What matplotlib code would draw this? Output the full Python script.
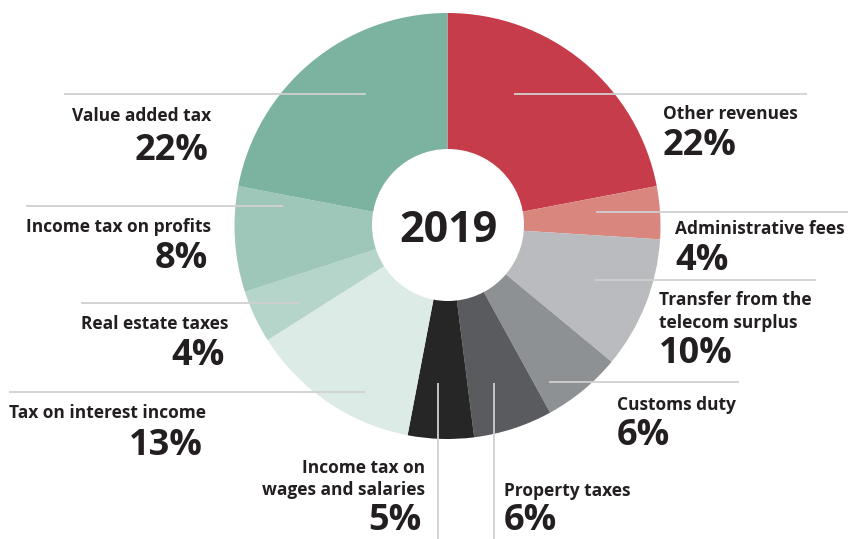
import matplotlib
matplotlib.use("Agg")
import matplotlib.pyplot as plt
from matplotlib.patches import Circle

# Revenue composition, 2019 (shares in percent, clockwise from the top)
categories = [
    "Other revenues",
    "Administrative fees",
    "Transfer from the\ntelecom surplus",
    "Customs duty",
    "Property taxes",
    "Income tax on\nwages and salaries",
    "Tax on interest income",
    "Real estate taxes",
    "Income tax on profits",
    "Value added tax",
]
shares = [22, 4, 10, 6, 6, 5, 13, 4, 8, 22]
colors = [
    "#C63C4A", "#D9877E", "#B9BBBE", "#8E9194", "#5A5B5F",
    "#262626", "#DCEBE6", "#B5D4CA", "#9EC6B9", "#7BB3A0",
]
year = "2019"

W, H = 849, 539
TEXT = "#231F20"
LINE = "#D0D0D0"
FONT = ["Open Sans", "DejaVu Sans"]

fig = plt.figure(figsize=(W / 100, H / 100), dpi=100)
ax = fig.add_axes([0, 0, 1, 1])


def fy(y):
    """Convert a top-down pixel row into the axes' bottom-up coordinate."""
    return H - y


cx, cy, R, r_in = 447.5, 226, 213, 76

ax.pie(shares, colors=colors, startangle=90, counterclock=False,
       center=(cx, fy(cy)), radius=R, frame=True,
       wedgeprops=dict(linewidth=0))
ax.add_patch(Circle((cx + 0.5, fy(cy - 1)), r_in, facecolor="white",
                    edgecolor="none", zorder=5))
ax.text(cx + 0.5, fy(cy - 1), year, ha="center", va="center_baseline",
        fontsize=31, fontweight="bold", color=TEXT, family=FONT, zorder=6)

# label layout: (x, label baseline(s), percent baseline, alignment, leader line)
layout = [
    (663, [119], 155, "left", ((514, 94), (807, 94))),
    (675, [234], 270, "left", ((596, 212), (848, 212))),
    (659, [305, 328], 363, "left", ((595, 280), (816, 280))),
    (617, [410], 445, "left", ((549, 382), (739, 382))),
    (504, [496], 530, "left", ((494, 383), (494, 539))),
    (425, [473, 495], 530, "right", ((438, 383), (438, 539))),
    (206, [418], 455, "right", ((9, 392), (365, 392))),
    (228, [329], 365, "right", ((81, 303), (299, 303))),
    (211, [232], 268, "right", ((26, 206), (283, 206))),
    (211, [121], 160, "right", ((64, 94), (366, 94))),
]

for name, share, (x, bases, pbase, ha, seg) in zip(categories, shares, layout):
    (x0, y0), (x1, y1) = seg
    ax.plot([x0, x1], [fy(y0), fy(y1)], color=LINE, lw=1.3,
            solid_capstyle="butt", zorder=4)
    for line, b in zip(name.split("\n"), bases):
        ax.text(x, fy(b), line, ha=ha, va="baseline", fontsize=12.5,
                fontweight="bold", color=TEXT, family=FONT, zorder=7)
    px = x - 3 if ha == "right" else x
    ax.text(px, fy(pbase), f"{share}%", ha=ha, va="baseline", fontsize=26,
            fontweight="bold", color=TEXT, family=FONT, zorder=7)

ax.set_xlim(0, W)
ax.set_ylim(0, H)
ax.set_aspect("auto")
ax.axis("off")

fig.savefig("out.png", dpi=100, facecolor="white")
